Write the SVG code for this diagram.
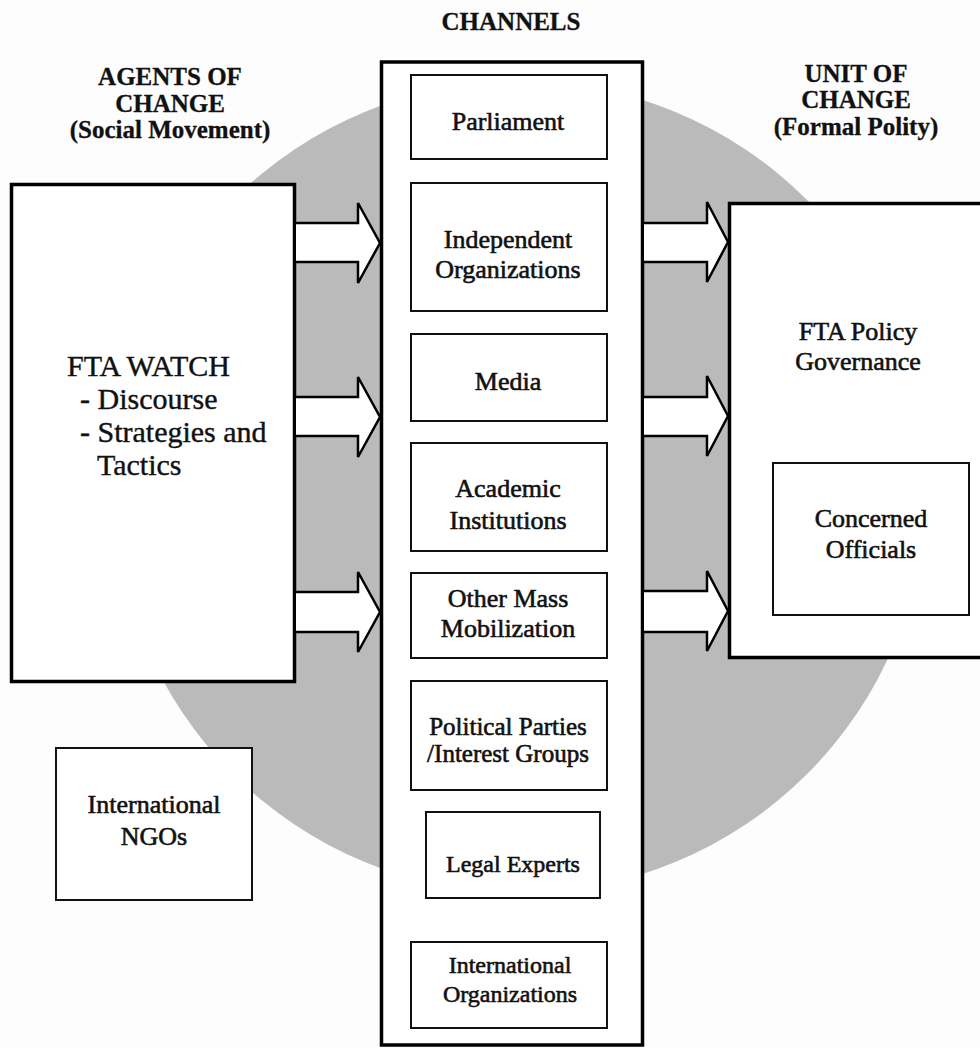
<svg xmlns="http://www.w3.org/2000/svg" width="980" height="1048" viewBox="0 0 980 1048">
<style>
text{font-family:"Liberation Serif","Times New Roman",serif;fill:#111;text-anchor:middle;stroke:#111;stroke-width:0.6}
.h{font-weight:bold;font-size:25px;stroke-width:0.3}
.t26{font-size:26px}
.t25{font-size:25px}
.t24{font-size:24px}
.big{font-size:30px;text-anchor:start;stroke-width:0.4}
.outer{fill:#fff;stroke:#000;stroke-width:3.5}
.inner{fill:#fff;stroke:#111;stroke-width:2}
.arrow{fill:#fff;stroke:#000;stroke-width:2.5;stroke-linejoin:miter}
</style>
<rect width="980" height="1048" fill="#fdfdfd"/>
<circle id="background-circle" cx="520" cy="487" r="406" fill="#bababa"/>

<g id="header-agents">
<text class="h" x="170" y="85">AGENTS OF</text>
<text class="h" x="170" y="112">CHANGE</text>
<text class="h" x="170" y="138">(Social Movement)</text>
</g>
<g id="header-channels">
<text class="h" x="511" y="30">CHANNELS</text>
</g>
<g id="header-unit">
<text class="h" x="856" y="82">UNIT OF</text>
<text class="h" x="856" y="108">CHANGE</text>
<text class="h" x="856" y="135">(Formal Polity)</text>
</g>

<g id="fta-watch">
<rect class="outer" x="11.5" y="184.5" width="283" height="497"/>
<text class="big" x="67" y="376">FTA WATCH</text>
<text class="big" x="80" y="409">- Discourse</text>
<text class="big" x="80" y="442">- Strategies and</text>
<text class="big" x="97" y="475">Tactics</text>
</g>

<g id="international-ngos">
<rect class="inner" x="56" y="748" width="196" height="152"/>
<text class="t26" x="154" y="813">International</text>
<text class="t26" x="154" y="845">NGOs</text>
</g>

<g id="channels">
<rect class="outer" x="381.5" y="62" width="261" height="983"/>
</g>
<g id="parliament">
<rect class="inner" x="411" y="75" width="196" height="84"/>
<text class="t26" x="508" y="130">Parliament</text>
</g>
<g id="independent-organizations">
<rect class="inner" x="411" y="183" width="196" height="128"/>
<text class="t26" x="508" y="248">Independent</text>
<text class="t26" x="508" y="278">Organizations</text>
</g>
<g id="media">
<rect class="inner" x="411" y="334" width="196" height="87"/>
<text class="t26" x="508" y="390">Media</text>
</g>
<g id="academic-institutions">
<rect class="inner" x="411" y="443" width="196" height="108"/>
<text class="t26" x="508" y="497">Academic</text>
<text class="t26" x="508" y="529">Institutions</text>
</g>
<g id="other-mass-mobilization">
<rect class="inner" x="411" y="573" width="196" height="85"/>
<text class="t26" x="508" y="607">Other Mass</text>
<text class="t26" x="508" y="637">Mobilization</text>
</g>
<g id="political-parties">
<rect class="inner" x="411" y="681" width="196" height="109"/>
<text class="t25" x="508" y="735">Political Parties</text>
<text class="t25" x="508" y="762">/Interest Groups</text>
</g>
<g id="legal-experts">
<rect class="inner" x="426" y="812" width="174" height="86"/>
<text class="t24" x="513" y="872">Legal Experts</text>
</g>
<g id="international-organizations">
<rect class="inner" x="411" y="942" width="196" height="86"/>
<text class="t24" x="510" y="973">International</text>
<text class="t24" x="510" y="1002">Organizations</text>
</g>

<g id="fta-policy-governance">
<rect class="outer" x="729.5" y="203.5" width="290" height="454"/>
<text class="t26" x="858" y="340">FTA Policy</text>
<text class="t26" x="858" y="370">Governance</text>
</g>
<g id="concerned-officials">
<rect class="inner" x="773" y="463" width="196" height="152"/>
<text class="t26" x="871" y="527">Concerned</text>
<text class="t26" x="871" y="558">Officials</text>
</g>

<g id="connectors">
<path class="arrow" d="M296,223 H358 V203 L380,243 L358,283 V262 H296"/>
<path class="arrow" d="M296,397 H358 V377 L380,417 L358,457 V436 H296"/>
<path class="arrow" d="M296,592 H358 V572 L380,612 L358,652 V632 H296"/>
<path class="arrow" d="M644,223 H707 V202 L728,242 L707,282 V262 H644"/>
<path class="arrow" d="M644,397 H707 V376 L728,416 L707,456 V436 H644"/>
<path class="arrow" d="M644,591 H707 V571 L728,611 L707,651 V632 H644"/>
</g>
</svg>
